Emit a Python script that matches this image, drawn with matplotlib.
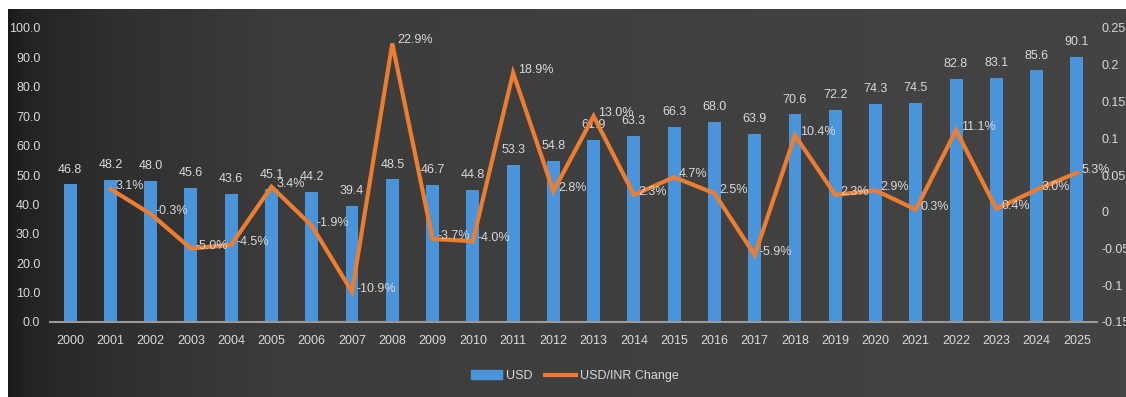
import numpy as np
import matplotlib
matplotlib.use('Agg')
import matplotlib.pyplot as plt
from matplotlib.patches import Patch
from matplotlib.lines import Line2D

years = [str(y) for y in range(2000, 2026)]
usd = [46.8, 48.2, 48.0, 45.6, 43.6, 45.1, 44.2, 39.4, 48.5, 46.7, 44.8, 53.3, 54.8,
       61.9, 63.3, 66.3, 68.0, 63.9, 70.6, 72.2, 74.3, 74.5, 82.8, 83.1, 85.6, 90.1]
change_years = years[1:]
change_pct = [3.1, -0.3, -5.0, -4.5, 3.4, -1.9, -10.9, 22.9, -3.7, -4.0, 18.9, 2.8, 13.0,
              2.3, 4.7, 2.5, -5.9, 10.4, 2.3, 2.9, 0.3, 11.1, 0.4, 3.0, 5.3]

plt.rcParams['font.family'] = ['Liberation Sans', 'DejaVu Sans']
txt = '#d9d9d9'
bar_col = '#4a94dc'
line_col = '#ed7d31'
fs = 9

fig = plt.figure(figsize=(11.26, 3.97), dpi=100, facecolor='white')

# dark gradient background, with the thin white margin top/left
bg = fig.add_axes([8 / 1126, 0, 1 - 8 / 1126, 1 - 9 / 397])
t = np.linspace(0, 1, 256) ** 0.5
grad = np.tile(t, (10, 1))
bg.imshow(grad, aspect='auto', cmap=matplotlib.colors.LinearSegmentedColormap.from_list(
    'bg', ['#1a1a1a', '#3c3c3c', '#444444']), extent=[0, 1, 0, 1])
bg.set_axis_off()

ax = fig.add_axes([50 / 1126, 1 - 322 / 397, 1047 / 1126, 294 / 397])
ax.patch.set_alpha(0)
x = np.arange(len(years))
ax.bar(x, usd, width=0.32, color=bar_col, zorder=2)
for xi, v in zip(x, usd):
    ax.text(xi, v + 3.0, f'{v:.1f}', ha='center', va='bottom', color=txt, fontsize=fs)
ax.set_ylim(0, 100)
ax.set_xlim(-0.5, len(years) - 0.5)
ax.set_yticks(np.arange(0, 101, 10))
ax.set_yticklabels([f'{v:.1f}' for v in np.arange(0, 101, 10)])
ax.set_xticks(x)
ax.set_xticklabels(years)
ax.tick_params(colors=txt, labelsize=fs, length=0)
ax.tick_params(axis='x', pad=9)
ax.tick_params(axis='y', pad=7)
for s in ['top', 'right', 'left']:
    ax.spines[s].set_visible(False)
ax.spines['bottom'].set_color('#9a9a9a')
ax.spines['bottom'].set_linewidth(1.5)

ax2 = ax.twinx()
xc = np.arange(1, len(years))
yc = [c / 100 for c in change_pct]
ax2.plot(xc, yc, color=line_col, linewidth=3, zorder=3, solid_joinstyle='miter')
for xi, c, v in zip(xc, change_pct, yc):
    ax2.text(xi + 0.12, v + 0.004, f'{c:.1f}%', ha='left', va='center', color=txt, fontsize=fs)
ax2.set_ylim(-0.15, 0.25)
ax2.set_yticks([-0.15, -0.1, -0.05, 0, 0.05, 0.1, 0.15, 0.2, 0.25])
ax2.set_yticklabels(['-0.15', '-0.1', '-0.05', '0', '0.05', '0.1', '0.15', '0.2', '0.25'])
ax2.tick_params(colors=txt, labelsize=fs, length=0, pad=3)
for s in ax2.spines.values():
    s.set_visible(False)

handles = [Patch(color=bar_col, label='USD'),
           Line2D([0], [0], color=line_col, linewidth=3, label='USD/INR Change')]
fig.legend(handles=handles, loc='center', bbox_to_anchor=(575 / 1126, 1 - 376 / 397),
           ncol=2, frameon=False, labelcolor=txt, fontsize=fs, handlelength=2.5,
           columnspacing=1.0, handletextpad=0.3)

fig.savefig('out.png', dpi=100, facecolor=fig.get_facecolor())
